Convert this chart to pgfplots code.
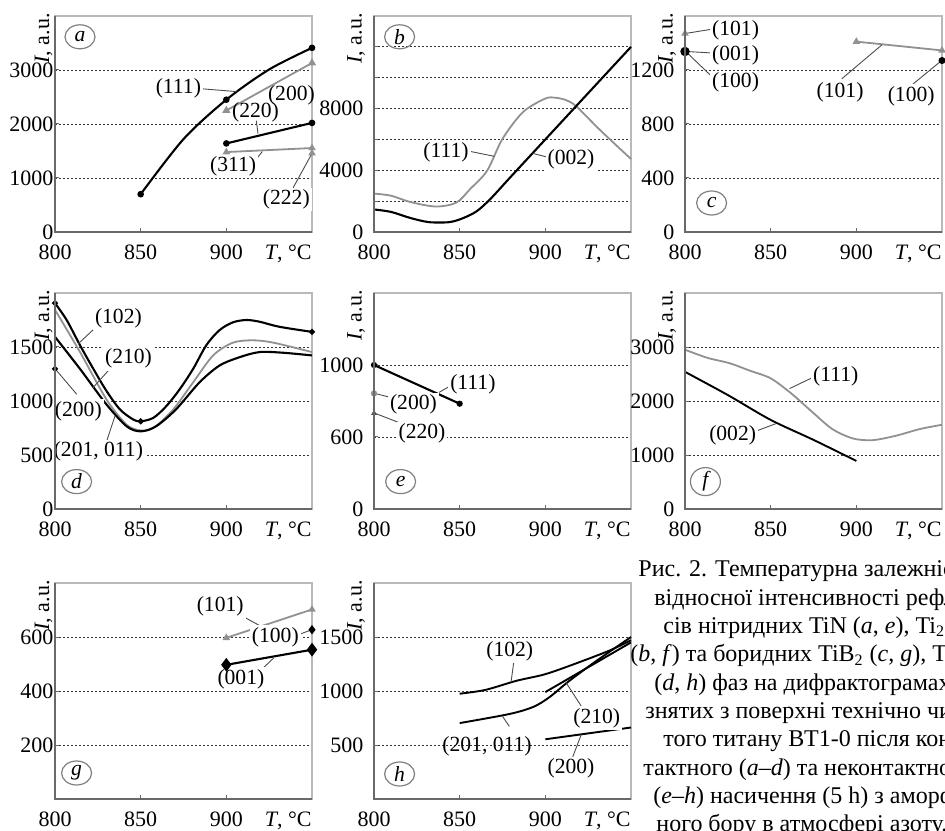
\documentclass[border=0pt]{standalone}
\usepackage{fontspec}
\setmainfont{Liberation Serif}
\usepackage{pgfplots}
\pgfplotsset{compat=1.18}
\usetikzlibrary{shapes.geometric}

\definecolor{gl}{RGB}{145,145,145}
\definecolor{ax}{RGB}{105,105,105}
\definecolor{axl}{RGB}{185,185,185}

\tikzset{
  blk/.style={black, line width=1.05pt},
  gry/.style={gl, line width=0.9pt},
  ld/.style={black!70, line width=0.45pt},
  lab/.style={font=\fontsize{10.8}{11}\selectfont, fill=white, inner sep=1pt},
  ell/.style={draw=gray, line width=0.6pt, ellipse, minimum width=15pt, minimum height=12pt, inner sep=0pt, font=\fontsize{10.8}{11}\selectfont\itshape},
  captxt/.style={font=\fontsize{12}{12}\selectfont, anchor=base west, inner sep=0pt},
}

\pgfplotsset{
  panel/.style={
    width=128.5pt, height=108pt, scale only axis,
    anchor=south west,
    xmin=800, xmax=950, xtick={800,850,900}, xticklabels={800,850,900},
    scaled ticks=false,
    axis line style={axl, line width=0.6pt},
    tick style={ax, line width=0.5pt},
    tick align=inside, major tick length=2pt,
    xtick pos=bottom, ytick pos=left,
    ymajorgrids,
    major grid style={black!80, line width=0.45pt, dash pattern=on 0.9pt off 1.1pt},
    tick label style={font=\fontsize{11}{11}\selectfont},
    xticklabel style={anchor=base, yshift=-13.7pt},
    clip=false,
    after end axis/.append code={
      \draw[ax, line width=0.6pt] (rel axis cs:0,1) -- (rel axis cs:0,0) -- (rel axis cs:1,0);
      \node[font=\fontsize{11}{11}\selectfont, anchor=base east, inner sep=0pt]
        at ([yshift=-13.7pt]rel axis cs:1,0) {\textit{T}, °C};
    },
  },
  col1/.style={
    yticklabel style={inner xsep=0.6pt},
    after end axis/.append code={
      \node[font=\fontsize{11}{11}\selectfont, rotate=90, anchor=east, inner sep=0pt]
        at ([xshift=-5.75pt, yshift=1.5pt]rel axis cs:0,1) {\textit{I}, a.u.};
    },
  },
  col23/.style={
    yticklabel style={inner xsep=0.6pt},
    yticklabel shift=4.5pt,
    after end axis/.append code={
      \node[font=\fontsize{11}{11}\selectfont, rotate=90, anchor=east, inner sep=0pt]
        at ([xshift=-9pt, yshift=1.5pt]rel axis cs:0,1) {\textit{I}, a.u.};
    },
  },
}

\begin{document}
\begin{tikzpicture}
\useasboundingbox (0pt,0pt) rectangle (472.5pt,415pt);

% ---------------- (a) ----------------
\begin{axis}[panel, col1, at={(27.5pt,299pt)}, ymin=0, ymax=4000, ytick={0,1000,2000,3000}, yticklabels={0,1000,2000,3000}]
\addplot[blk, smooth, mark=*, mark size=1.1pt, mark indices={1,3,5}] coordinates {(850,700)(875,1720)(900,2450)(925,3010)(950,3410)};
\addplot[gry, mark=triangle*, mark size=1.5pt] coordinates {(900,2250)(950,3130)};
\addplot[blk, mark=*, mark size=1.1pt] coordinates {(900,1640)(950,2020)};
\addplot[gry, mark=triangle*, mark size=1.3pt] coordinates {(900,1480)(950,1555)};
\addplot[gry, only marks, mark=triangle*, mark size=1.3pt] coordinates {(950,1460)};
\draw[ld] (axis cs:884.5,2655) -- (axis cs:906,2600);
\draw[ld] (axis cs:917.5,2060) -- (axis cs:918.5,1820);
\draw[ld] (axis cs:916,1290) -- (axis cs:921,1490);
\draw[ld] (axis cs:939,820) -- (axis cs:950,1455);
\node[lab] at (axis cs:872,2665) {(111)};
\node[lab, fill=none] at (axis cs:938,2528) {(200)};
\node[lab, fill=none] at (axis cs:917,2217) {(220)};
\node[lab] at (axis cs:904,1224) {(311)};
\node[lab] at (axis cs:935,602) {(222)};
\node[ell] at ([xshift=12.5pt, yshift=-10.4pt]rel axis cs:0,1) {a};
\end{axis}

% ---------------- (b) ----------------
\begin{axis}[panel, col23, at={(187pt,299pt)}, ymin=0, ymax=14000,
  ytick={0,2000,4000,6000,8000,10000,12000}, yticklabels={0,,4000,,8000,,}]
\addplot[gry, smooth] coordinates {(800,2490)(810,2350)(821,1950)(836,1650)(848,1900)(856,2770)(866,3970)(875,6040)(887,7780)(900,8650)(906,8700)(912,8550)(918,8150)(932,6600)(950,4730)};
\addplot[blk, smooth] coordinates {(800,1460)(810,1300)(821,915)(832,640)(844,640)(852,900)(860,1350)(868,2150)(880,3600)(900,6000)(925,9000)(950,12000)};
\draw[ld] (axis cs:855,5250) -- (axis cs:870.4,4900);
\draw[ld] (axis cs:892.5,5100) -- (axis cs:903,4800);
\node[lab] at (axis cs:842,5170) {(111)};
\node[lab] at (axis cs:915,4730) {(002)};
\node[ell] at ([xshift=12.8pt, yshift=-10.4pt]rel axis cs:0,1) {b};
\end{axis}

% ---------------- (c) ----------------
\begin{axis}[panel, col23, at={(342.5pt,299pt)}, ymin=0, ymax=1600, ytick={0,400,800,1200}, yticklabels={0,400,800,1200}]
\addplot[gry, only marks, mark=triangle*, mark size=1.3pt] coordinates {(800,1470)};
\addplot[blk, only marks, mark=*, mark size=1.8pt] coordinates {(800,1337)};
\addplot[gry, mark=triangle*, mark size=1.3pt] coordinates {(900,1410)(950,1345)};
\addplot[blk, only marks, mark=*, mark size=1.2pt] coordinates {(950,1270)};
\draw[ld] (axis cs:801,1472) -- (axis cs:817,1505);
\draw[ld] (axis cs:801,1337) -- (axis cs:817,1325);
\draw[ld] (axis cs:801,1330) -- (axis cs:817,1135);
\draw[ld] (axis cs:891.5,1135) -- (axis cs:915,1387);
\draw[ld] (axis cs:933,1095) -- (axis cs:949,1262);
\node[lab] at (axis cs:829.5,1495) {(101)};
\node[lab] at (axis cs:829.5,1307) {(001)};
\node[lab] at (axis cs:829.5,1107) {(100)};
\node[lab] at (axis cs:890.5,1032) {(101)};
\node[lab] at (axis cs:932,1007) {(100)};
\node[ell] at ([xshift=13.3pt, yshift=14.5pt]rel axis cs:0,0) {c};
\end{axis}

% ---------------- (d) ----------------
\begin{axis}[panel, col1, at={(27.5pt,160.5pt)}, ymin=0, ymax=2000, ytick={0,500,1000,1500}, yticklabels={0,500,1000,1500}]
\addplot[blk, smooth] coordinates {(800,1906)(806.8,1750)(814.6,1516)(822.4,1297)(830,1094)(837.9,922)(845.7,828)(850,812)(857.4,844)(865,953)(872.8,1109)(880.6,1297)(888.3,1516)(896,1656)(903.8,1728)(911.6,1750)(919.4,1734)(931,1687)(950,1640)};
\addplot[gry, smooth] coordinates {(800,1844)(814.6,1453)(830,1016)(841.8,781)(850,728)(857.4,750)(869,922)(880.6,1172)(892.3,1422)(903.8,1540)(915.5,1562)(927.5,1540)(950,1453)};
\addplot[blk, smooth] coordinates {(800,1594)(814.6,1297)(830,969)(841.8,766)(850,719)(859,766)(870.6,922)(884.3,1172)(896,1328)(907.8,1406)(919.4,1453)(933,1447)(950,1422)};
\addplot[blk, only marks, mark=*, mark size=0.9pt] coordinates {(800,1906)(850,812)(950,1640)(800,1297)};
\draw[ld] (axis cs:826.3,1719) -- (axis cs:813.6,1531);
\draw[ld] (axis cs:832,1297) -- (axis cs:822,1120);
\draw[ld] (axis cs:830.2,631) -- (axis cs:835,860);
\draw[ld] (axis cs:800.5,1290) -- (axis cs:812.7,1062);
\node[lab] at (axis cs:837,1766) {(102)};
\node[lab] at (axis cs:842.9,1391) {(210)};
\node[lab] at (axis cs:825.3,531) {(201, 011)};
\node[lab] at (axis cs:813.6,906) {(200)};
\node[ell] at ([xshift=10.8pt, yshift=13.7pt]rel axis cs:0,0) {d};
\end{axis}

% ---------------- (e) ----------------
\begin{axis}[panel, col23, at={(187pt,160.5pt)}, ymin=200, ymax=1400, ytick={200,600,1000}, yticklabels={0,600,1000}]
\addplot[blk, mark=*, mark size=1pt] coordinates {(800,1000)(850,785)};
\addplot[gry, only marks, mark=*, mark size=1.1pt] coordinates {(800,842)};
\addplot[black!70, only marks, mark=triangle*, mark size=1.3pt] coordinates {(800,732)};
\draw[ld] (axis cs:846,892) -- (axis cs:838,848);
\draw[ld] (axis cs:800.5,842) -- (axis cs:811,817);
\draw[ld] (axis cs:800.5,732) -- (axis cs:816,675);
\node[lab] at (axis cs:857.7,892) {(111)};
\node[lab] at (axis cs:823,779) {(200)};
\node[lab] at (axis cs:828,619) {(220)};
\node[ell] at ([xshift=13.3pt, yshift=13.7pt]rel axis cs:0,0) {e};
\end{axis}

% ---------------- (f) ----------------
\begin{axis}[panel, col23, at={(342.5pt,160.5pt)}, ymin=0, ymax=4000, ytick={0,1000,2000,3000}, yticklabels={0,1000,2000,3000}]
\addplot[gry, smooth] coordinates {(800,2950)(813,2800)(826,2700)(838,2560)(850,2420)(862,2140)(874.5,1790)(886,1480)(898,1306)(909.5,1275)(923,1356)(937,1480)(950,1560)};
\addplot[blk, line width=0.95pt, smooth] coordinates {(800,2540)(825,2110)(850,1650)(875,1280)(900,890)};
\draw[ld] (axis cs:875.5,2450) -- (axis cs:861,2230);
\draw[ld] (axis cs:840.5,1431) -- (axis cs:853,1580);
\node[lab] at (axis cs:888,2450) {(111)};
\node[lab] at (axis cs:827.8,1356) {(002)};
\node[ell] at ([xshift=10.2pt, yshift=13.7pt]rel axis cs:0,0) {f};
\end{axis}

% ---------------- (g) ----------------
\begin{axis}[panel, col1, at={(27.5pt,15.5pt)}, ymin=0, ymax=800, ytick={200,400,600}, yticklabels={200,400,600}]
\addplot[gry, mark=triangle*, mark size=1.3pt] coordinates {(900,597)(950,702)};
\addplot[blk, only marks, mark=diamond*, mark size=1.5pt] coordinates {(950,627)};
\addplot[blk, mark=diamond*, mark size=2.6pt] coordinates {(900,497)(950,553)};
\draw[ld] (axis cs:906.6,687) -- (axis cs:919.8,641);
\draw[ld] (axis cs:941,606) -- (axis cs:949,625);
\draw[ld] (axis cs:919.8,475) -- (axis cs:927.6,522);
\node[lab] at (axis cs:896.4,712) {(101)};
\node[lab] at (axis cs:928.6,600) {(100)};
\node[lab] at (axis cs:908.5,445) {(001)};
\node[ell] at ([xshift=10.8pt, yshift=13pt]rel axis cs:0,0) {g};
\end{axis}

% ---------------- (h) ----------------
\begin{axis}[panel, col23, at={(187pt,15.5pt)}, ymin=0, ymax=2000, ytick={500,1000,1500}, yticklabels={500,1000,1500}]
\addplot[blk, line width=0.95pt, smooth] coordinates {(850,975)(865,1010)(883,1094)(900,1156)(918,1256)(937.5,1375)(950,1470)};
\addplot[blk, line width=0.95pt, smooth] coordinates {(850,703)(879,787)(893,853)(902.5,944)(914,1094)(930,1281)(950,1500)};
\addplot[blk, line width=0.95pt] coordinates {(900,990)(950,1450)};
\addplot[blk, line width=0.95pt] coordinates {(900,553)(950,662)};
\draw[ld] (axis cs:881.5,1259) -- (axis cs:880,1085);
\draw[ld] (axis cs:921,859) -- (axis cs:912,1080);
\draw[ld] (axis cs:879,672) -- (axis cs:875,766);
\draw[ld] (axis cs:916,391) -- (axis cs:921,598);
\node[lab] at (axis cs:879.2,1369) {(102)};
\node[lab] at (axis cs:930,750) {(210)};
\node[lab, fill=none] at (axis cs:866,484) {(201, 011)};
\node[lab] at (axis cs:915,281) {(200)};
\node[ell] at ([xshift=12.8pt, yshift=12.5pt]rel axis cs:0,0) {h};
\end{axis}

% ---------------- caption ----------------
\node[captxt] at (319pt,126.65pt) {Рис. 2. Температурна залежність};
\node[captxt] at (327pt,112.5pt) {відносної інтенсивності рефлек-};
\node[captxt] at (331.5pt,98.35pt) {сів нітридних TiN (\textit{a}, \textit{e}), Ti\textsubscript{2}N};
\node[captxt] at (315pt,84.15pt) {(\textit{b}, \textit{f}) та боридних TiB\textsubscript{2} (\textit{c}, \textit{g}), TiB};
\node[captxt] at (327pt,70pt) {(\textit{d}, \textit{h}) фаз на дифрактограмах,};
\node[captxt] at (322.5pt,55.85pt) {знятих з поверхні технічно чис-};
\node[captxt] at (331.5pt,41.65pt) {того титану ВТ1-0 після кон-};
\node[captxt] at (321.5pt,27.5pt) {тактного (\textit{a}–\textit{d}) та неконтактного};
\node[captxt] at (326.5pt,13.35pt) {(\textit{e}–\textit{h}) насичення (5 h) з аморф-};
\node[captxt] at (328pt,-0.85pt) {ного бору в атмосфері азоту.};
\end{tikzpicture}
\end{document}
